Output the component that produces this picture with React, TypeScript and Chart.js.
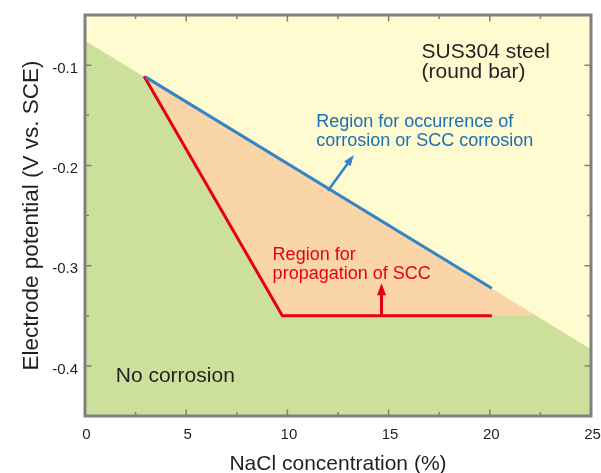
import React, { useEffect, useRef } from "react";
import { Chart, registerables } from "chart.js";

Chart.register(...registerables);

const FONT = '"Liberation Sans", Arial, Helvetica, sans-serif';

// ---- data (x: NaCl concentration %, y: electrode potential V vs. SCE) ----
const boundaryX = [0, 25];
const boundaryY = [-0.0756, -0.3835];

const sccRegionX = [2.95, 22.28, 9.75];
const sccRegionY = [-0.111, -0.35, -0.35];

const redLineX = [2.92, 9.75, 20.1];
const redLineY = [-0.111, -0.35, -0.35];

const blueLineX = [3.0, 20.1];
const blueLineY = [-0.112, -0.3225];

const blueArrowX = [12.0, 13.28];
const blueArrowY = [-0.2253, -0.1897];

const redArrowX = [14.65, 14.65];
const redArrowY = [-0.35, -0.3177];

const xTickLabels = ["0", "5", "10", "15", "20", "25"];
const yTickLabels = ["-0.1", "-0.2", "-0.3", "-0.4"];

// ---- styles ----
const YELLOW = "#fffbd1";
const GREEN = "#cce09b";
const ORANGE = "#fad5a8";
const RED = "#e60012";
const BLUE_LINE = "#3584c6";
const BLUE_TEXT = "#1a6fb5";
const GRAY = "#808080";
const DARK = "#231f20";

const notes = [
  { lines: ["SUS304 steel", "(round bar)"], x: 16.63, y: -0.0932, color: DARK, size: 21, lh: 19.3 },
  { lines: ["Region for occurrence of", "corrosion or SCC corrosion"], x: 11.42, y: -0.162, color: BLUE_TEXT, size: 18, lh: 18.7 },
  { lines: ["Region for", "propagation of SCC"], x: 9.27, y: -0.2944, color: RED, size: 18, lh: 18.5 },
  { lines: ["No corrosion"], x: 1.52, y: -0.4164, color: DARK, size: 21, lh: 0 },
];

const pts = (xs: number[], ys: number[]) => xs.map((v, i) => ({ x: v, y: ys[i] }));

function drawArrow(ctx: CanvasRenderingContext2D, x0: number, y0: number, x1: number, y1: number, color: string, w: number, headLen: number, headW: number) {
  const dx = x1 - x0, dy = y1 - y0;
  const L = Math.hypot(dx, dy) || 1;
  const ux = dx / L, uy = dy / L;
  const px = -uy, py = ux;
  const bx = x1 - ux * headLen, by = y1 - uy * headLen;
  ctx.strokeStyle = color;
  ctx.fillStyle = color;
  ctx.lineWidth = w;
  ctx.lineCap = "butt";
  ctx.beginPath();
  ctx.moveTo(x0, y0);
  ctx.lineTo(bx + ux * 1, by + uy * 1);
  ctx.stroke();
  ctx.beginPath();
  ctx.moveTo(x1, y1);
  ctx.lineTo(bx + px * headW / 2, by + py * headW / 2);
  ctx.lineTo(bx - px * headW / 2, by - py * headW / 2);
  ctx.closePath();
  ctx.fill();
}

const background = {
  id: "plotBackground",
  beforeDatasetsDraw(chart: any) {
    const { ctx, chartArea: a } = chart;
    ctx.save();
    ctx.fillStyle = YELLOW;
    ctx.fillRect(a.left, a.top, a.right - a.left, a.bottom - a.top);
    ctx.restore();
  },
};

const decor = {
  id: "decor",
  afterDatasetsDraw(chart: any) {
    const { ctx, chartArea: a } = chart;
    const xs = chart.scales.x;
    const ys = chart.scales.y;
    ctx.save();

    for (const n of notes) {
      ctx.font = `${n.size}px ${FONT}`;
      ctx.fillStyle = n.color;
      ctx.textAlign = "left";
      ctx.textBaseline = "alphabetic";
      const px = xs.getPixelForValue(n.x);
      const py = ys.getPixelForValue(n.y);
      n.lines.forEach((t, i) => ctx.fillText(t, px, py + i * n.lh));
    }

    drawArrow(ctx,
      xs.getPixelForValue(blueArrowX[0]), ys.getPixelForValue(blueArrowY[0]),
      xs.getPixelForValue(blueArrowX[1]), ys.getPixelForValue(blueArrowY[1]),
      BLUE_LINE, 2.5, 11, 8);
    drawArrow(ctx,
      xs.getPixelForValue(redArrowX[0]), ys.getPixelForValue(redArrowY[0]),
      xs.getPixelForValue(redArrowX[1]), ys.getPixelForValue(redArrowY[1]),
      RED, 3, 12, 9);

    ctx.strokeStyle = GRAY;
    ctx.lineWidth = 1.5;
    ctx.beginPath();
    for (const t of xs.ticks) {
      const p = xs.getPixelForValue(t.value);
      const major = Math.abs(t.value / 5 - Math.round(t.value / 5)) < 1e-6;
      const len = major ? 6.5 : 4;
      ctx.moveTo(p, a.bottom);
      ctx.lineTo(p, a.bottom - len);
      ctx.moveTo(p, a.top);
      ctx.lineTo(p, a.top + len);
    }
    for (const t of ys.ticks) {
      const p = ys.getPixelForValue(t.value);
      const major = Math.abs(t.value * 10 - Math.round(t.value * 10)) < 1e-6;
      const len = major ? 6.5 : 4;
      ctx.moveTo(a.left, p);
      ctx.lineTo(a.left + len, p);
      ctx.moveTo(a.right, p);
      ctx.lineTo(a.right - len, p);
    }
    ctx.stroke();

    ctx.lineWidth = 3;
    ctx.strokeRect(a.left, a.top, a.right - a.left, a.bottom - a.top);
    ctx.restore();
  },
};

export default function App() {
  const ref = useRef<HTMLCanvasElement | null>(null);

  useEffect(() => {
    document.body.style.margin = "0";
    const canvas = ref.current;
    if (!canvas) return;
    const chart = new Chart(canvas, {
      type: "line",
      data: {
        datasets: [
          {
            label: "No corrosion",
            data: pts(boundaryX, boundaryY),
            fill: "start",
            backgroundColor: GREEN,
            borderColor: "transparent",
            borderWidth: 0,
            pointRadius: 0,
            order: 9,
          },
          {
            label: "Region for propagation of SCC",
            data: pts(sccRegionX, sccRegionY),
            fill: "shape",
            backgroundColor: ORANGE,
            borderColor: "transparent",
            borderWidth: 0,
            pointRadius: 0,
            order: 8,
          },
          {
            label: "SCC propagation limit",
            data: pts(redLineX, redLineY),
            fill: false,
            borderColor: RED,
            borderWidth: 3,
            borderJoinStyle: "miter",
            pointRadius: 0,
            order: 2,
          },
          {
            label: "Corrosion / SCC occurrence limit",
            data: pts(blueLineX, blueLineY),
            fill: false,
            borderColor: BLUE_LINE,
            borderWidth: 3,
            pointRadius: 0,
            order: 1,
          },
        ] as any,
      },
      options: {
        animation: false,
        responsive: false,
        devicePixelRatio: 1,
        events: [],
        layout: { padding: { left: 0, top: 15, right: 10, bottom: 0 } },
        plugins: {
          legend: { display: false },
          tooltip: { enabled: false },
        },
        scales: {
          x: {
            type: "linear",
            min: 0,
            max: 25,
            grid: { display: false, drawTicks: false },
            border: { display: false },
            ticks: {
              stepSize: 2.5,
              autoSkip: false,
              maxRotation: 0,
              padding: 9.5,
              labelOffset: 1.5,
              color: DARK,
              font: { family: FONT, size: 15 },
              callback: (v: any) => {
                const s = String(Math.round(Number(v) * 100) / 100);
                return xTickLabels.includes(s) ? s : "";
              },
            },
            title: {
              display: true,
              text: "NaCl concentration (%)",
              color: DARK,
              font: { family: FONT, size: 21 },
              padding: { top: 0, bottom: -4 },
            },
            afterFit: (s: any) => {
              s.height = 57;
              s.paddingLeft = 0;
              s.paddingRight = 0;
            },
          },
          y: {
            type: "linear",
            min: -0.45,
            max: -0.05,
            grid: { display: false, drawTicks: false },
            border: { display: false },
            ticks: {
              stepSize: 0.05,
              autoSkip: false,
              padding: 7,
              labelOffset: 3.5,
              color: DARK,
              font: { family: FONT, size: 15 },
              callback: (v: any) => {
                const s = (Math.round(Number(v) * 100) / 100).toFixed(2);
                const t = s.endsWith("0") ? s.slice(0, -1) : "";
                return yTickLabels.includes(t) ? t : "";
              },
            },
            title: {
              display: true,
              text: "Electrode potential (V vs. SCE)",
              color: DARK,
              font: { family: FONT, size: 22.5 },
              padding: { top: 18, bottom: 0 },
            },
            afterFit: (s: any) => {
              s.width = 85;
              s.paddingTop = 0;
              s.paddingBottom = 0;
            },
          },
        },
      } as any,
      plugins: [background, decor],
    });
    return () => chart.destroy();
  }, []);

  return (
    <div style={{ width: 601, height: 473, overflow: "hidden", background: "#fff" }}>
      <canvas ref={ref} width={601} height={473} style={{ display: "block", width: 601, height: 473 }} />
    </div>
  );
}
